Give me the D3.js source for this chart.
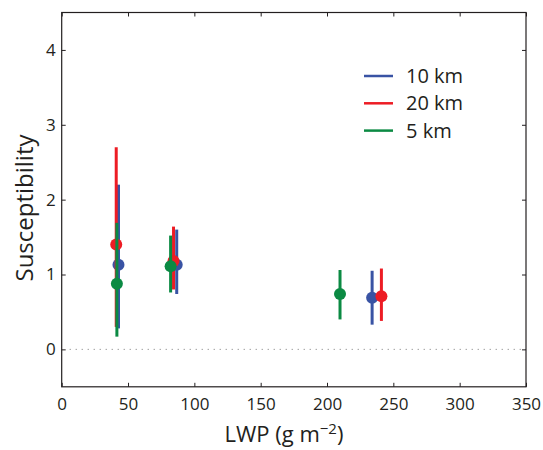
<!DOCTYPE html>
<html><head><meta charset="utf-8">
<script src="https://cdn.jsdelivr.net/npm/d3@7"></script>
<style>body{margin:0;background:#fff;} text{font-family:"Open Sans",sans-serif;fill:#231f20;}</style>
</head><body>
<svg id="c" width="543" height="450"></svg>
<script>
const seriesNames = ["10 km", "20 km", "5 km"];
const seriesColors = ["#3953a4", "#ed1c24", "#0b8a43"];
// each series: LWP, susceptibility, lower, upper
const lwp10 = [42.8, 86.7, 234];
const sus10 = [1.13, 1.13, 0.69];
const lo10  = [0.28, 0.74, 0.33];
const hi10  = [2.20, 1.60, 1.05];
const lwp20 = [41.1, 84.3, 241];
const sus20 = [1.40, 1.18, 0.71];
const lo20  = [0.30, 0.80, 0.38];
const hi20  = [2.70, 1.64, 1.08];
const lwp5  = [41.6, 82.1, 209.8];
const sus5  = [0.876, 1.11, 0.74];
const lo5   = [0.17, 0.76, 0.40];
const hi5   = [1.69, 1.52, 1.06];
const xTicks = [0, 50, 100, 150, 200, 250, 300, 350];
const yTicks = [0, 1, 2, 3, 4];

const series = [
  {name: seriesNames[0], color: seriesColors[0], x: lwp10, y: sus10, lo: lo10, hi: hi10},
  {name: seriesNames[1], color: seriesColors[1], x: lwp20, y: sus20, lo: lo20, hi: hi20},
  {name: seriesNames[2], color: seriesColors[2], x: lwp5,  y: sus5,  lo: lo5,  hi: hi5}
];

const svg = d3.select("#c");
const L = 61.7, R = 526, T = 12.5, B = 386.8;
const x = d3.scaleLinear().domain([0, 350]).range([L, R]);
const y = d3.scaleLinear().domain([-0.5, 4.5]).range([B, T]);

// dotted zero line
svg.append("line").attr("x1", x(0)+8).attr("x2", x(350)).attr("y1", y(0)).attr("y2", y(0))
  .attr("stroke", "#777").attr("stroke-width", 1).attr("stroke-dasharray", "1,5");

const fmt = d3.format("d");
const axStyle = g => { g.select(".domain").remove(); g.selectAll("line").attr("stroke", "#231f20"); };
svg.append("g").attr("transform", `translate(0,${B})`)
  .call(d3.axisBottom(x).tickValues(xTicks).tickFormat(fmt).tickSizeInner(-4).tickSizeOuter(0).tickPadding(11))
  .call(axStyle).call(g => g.selectAll("text").attr("font-size", 17).attr("font-family", "Open Sans"));
svg.append("g").attr("transform", `translate(0,${T})`)
  .call(d3.axisTop(x).tickValues(xTicks).tickSizeInner(-4).tickSizeOuter(0).tickFormat(""))
  .call(axStyle);
svg.append("g").attr("transform", `translate(${L},0)`)
  .call(d3.axisLeft(y).tickValues(yTicks).tickFormat(fmt).tickSizeInner(-4).tickSizeOuter(0).tickPadding(6))
  .call(axStyle).call(g => g.selectAll("text").attr("font-size", 17).attr("font-family", "Open Sans"));
svg.append("g").attr("transform", `translate(${R},0)`)
  .call(d3.axisRight(y).tickValues(yTicks).tickSizeInner(-4).tickSizeOuter(0).tickFormat(""))
  .call(axStyle);
svg.append("rect").attr("x", L).attr("y", T).attr("width", R - L).attr("height", B - T)
  .attr("fill", "none").attr("stroke", "#231f20").attr("stroke-width", 1.2);

// error bars and points
series.forEach(s => {
  const g = svg.append("g");
  s.x.forEach((xv, i) => {
    g.append("line").attr("x1", x(xv)).attr("x2", x(xv)).attr("y1", y(s.lo[i])).attr("y2", y(s.hi[i]))
      .attr("stroke", s.color).attr("stroke-width", 3);
    g.append("circle").attr("cx", x(xv)).attr("cy", y(s.y[i])).attr("r", 6).attr("fill", s.color);
  });
});

// legend
series.forEach((s, i) => {
  const ly = 76 + i * 27.3;
  svg.append("line").attr("x1", 364).attr("x2", 393).attr("y1", ly).attr("y2", ly)
    .attr("stroke", s.color).attr("stroke-width", 2.5);
  svg.append("text").attr("x", 406).attr("y", ly + 7).attr("font-size", 20).text(s.name);
});

// axis labels
svg.append("text").attr("transform", "translate(33,208) rotate(-90)").attr("text-anchor", "middle")
  .attr("font-size", 24).text("Susceptibility");
const xl = svg.append("text").attr("x", 284).attr("y", 442).attr("text-anchor", "middle").attr("font-size", 22);
xl.append("tspan").text("LWP (g m");
xl.append("tspan").attr("dy", -8).attr("font-size", 15).text("\u22122");
xl.append("tspan").attr("dy", 8).text(")");
</script>
</body></html>
